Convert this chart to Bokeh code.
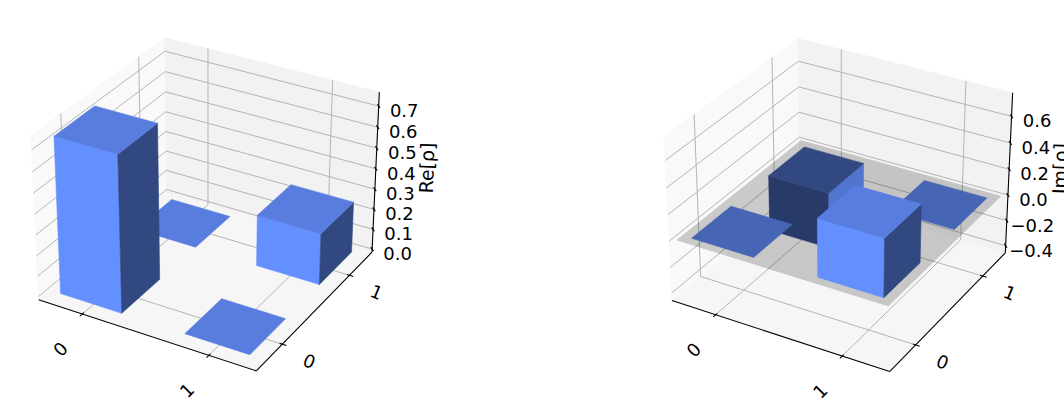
import numpy as np
from bokeh.plotting import figure
from bokeh.layouts import row
from bokeh.embed import file_html
from bokeh.resources import INLINE
from bokeh.core.properties import value

# ---- data ----
row_names = ["0", "1"]
col_names = ["0", "1"]
re_vals = [[0.75, 0.0], [0.0, 0.25]]      # [x][y]
im_vals = [[0.0, -0.433], [0.433, 0.0]]   # [x][y]
re_ticks = [0.0, 0.1, 0.2, 0.3, 0.4, 0.5, 0.6, 0.7]
im_ticks = [-0.4, -0.2, 0.0, 0.2, 0.4, 0.6]
re_zlim = (0.0, 0.75)
im_zlim = (-0.433, 0.75)
xpos = [0.25, 1.25]
ypos = [0.25, 1.25]
bar_w = 0.5
tick_pos = [0.5, 1.5]
xlim = (0.14, 1.86)
plane_lim = (0.175, 1.825)

BASE = np.array([100, 143, 255]) / 255
K = 2095.0
FONT = value("DejaVu Sans")
PX = 18

# camera as in a default 3-D axes (elev 30, azim -60, dist 10, box 4:4:3)
BOX = np.array([4, 4, 3]) * 1.8294640721620434 * 25 / 24 / np.linalg.norm([4, 4, 3])
el, az = np.radians(30), np.radians(-60)
W = np.array([np.cos(el) * np.cos(az), np.cos(el) * np.sin(az), np.sin(el)])
U = np.cross([0, 0, 1], W); U /= np.linalg.norm(U)
V = np.cross(W, U)


def shade(f):
    return "#%02x%02x%02x" % tuple(int(round(c * f * 255)) for c in BASE)


def panel(vals, zlim, zticks, zlabel, ox, oy, fx0, fw, H=410):
    d = (zlim[1] - zlim[0]) / 48
    zl = (zlim[0] - d, zlim[1] + d)

    def proj(x, y, z):
        q = np.array([(x - xlim[0]) / (xlim[1] - xlim[0]),
                      (y - xlim[0]) / (xlim[1] - xlim[0]),
                      (z - zl[0]) / (zl[1] - zl[0])]) * BOX - BOX / 2
        dp = 10 - q @ W
        return float(q @ U / dp), float(q @ V / dp)

    p = figure(width=fw, height=H, output_backend="svg", toolbar_location=None,
               x_range=((fx0 - ox) / K, (fx0 + fw - ox) / K),
               y_range=((oy - H) / K, oy / K),
               min_border=0, outline_line_color=None,
               background_fill_color="white", border_fill_color="white")
    p.axis.visible = False
    p.grid.visible = False

    def poly(pts, color, alpha=1.0):
        xy = [proj(*q) for q in pts]
        p.patch([a for a, _ in xy], [b for _, b in xy], fill_color=color,
                fill_alpha=alpha, line_color=color if alpha == 1.0 else None,
                line_width=0.6)

    def seg(pts, color, w):
        xy = [proj(*q) for q in pts]
        p.line([a for a, _ in xy], [b for _, b in xy], line_color=color, line_width=w)

    x0, x1 = xlim
    y0, y1 = xlim
    z0, z1 = zl
    # panes
    poly([(x0, y0, z0), (x0, y1, z0), (x0, y1, z1), (x0, y0, z1)], "#f9f9f9")
    poly([(x0, y1, z0), (x1, y1, z0), (x1, y1, z1), (x0, y1, z1)], "#f2f2f3")
    poly([(x0, y0, z0), (x1, y0, z0), (x1, y1, z0), (x0, y1, z0)], "#f6f6f7")
    # grid
    GRID = "#b4b4b4"
    for t in tick_pos:
        seg([(t, y0, z0), (t, y1, z0), (t, y1, z1)], GRID, 1.0)
        seg([(x1, t, z0), (x0, t, z0), (x0, t, z1)], GRID, 1.0)
    for t in zticks:
        seg([(x0, y0, t), (x0, y1, t), (x1, y1, t)], GRID, 1.0)

    def bar(i, j):
        h = vals[i][j]
        a, b = xpos[i], ypos[j]
        c, e = a + bar_w, b + bar_w
        if h == 0:
            poly([(a, b, 0), (c, b, 0), (c, e, 0), (a, e, 0)], shade(0.875))
        elif h > 0:
            poly([(a, b, 0), (c, b, 0), (c, b, h), (a, b, h)], shade(1.0))
            poly([(c, b, 0), (c, e, 0), (c, e, h), (c, b, h)], shade(0.5))
            poly([(a, b, h), (c, b, h), (c, e, h), (a, e, h)], shade(0.875))
        else:
            poly([(a, b, h), (c, b, h), (c, b, 0), (a, b, 0)], shade(0.5))
            poly([(c, b, h), (c, e, h), (c, e, 0), (c, b, 0)], shade(1.0))
            poly([(a, b, 0), (c, b, 0), (c, e, 0), (a, e, 0)], shade(0.625))

    cells = [(0, 1), (1, 1), (0, 0), (1, 0)]
    if zlim[0] < 0:
        for i, j in cells:
            if vals[i][j] <= 0:
                bar(i, j)
        a, b = plane_lim
        poly([(a, a, 0), (b, a, 0), (b, b, 0), (a, b, 0)], "#000000", 0.19)
        for i, j in cells:
            if vals[i][j] > 0:
                bar(i, j)
    else:
        for i, j in cells:
            bar(i, j)

    # axis lines
    seg([(x0, y0, z0), (x1, y0, z0)], "#000000", 1.1)
    seg([(x1, y0, z0), (x1, y1, z0)], "#000000", 1.1)
    seg([(x1, y1, z0), (x1, y1, z1)], "#000000", 1.1)
    span = x1 - x0
    for t in tick_pos:
        seg([(t, y0 - 0.018 * span, z0), (t, y0 + 0.012 * span, z0)], "#000000", 1.1)
        seg([(x1 + 0.018 * span, t, z0), (x1 - 0.012 * span, t, z0)], "#000000", 1.1)
    for t in zticks:
        seg([(x1 + 0.012 * span, y1 - 0.012 * span, t), (x1 - 0.012 * span, y1 + 0.012 * span, t)], "#000000", 1.1)

    # texts
    def label(pos, s, dx, dy, angle=0.0, size=PX):
        a, b = proj(*pos)
        p.text([a], [b], text=[s], x_offset=dx, y_offset=dy, angle=np.radians(angle),
               text_font=FONT, text_font_size=f"{size}px", text_color="#000000",
               text_align="center", text_baseline="middle")

    for t, s in zip(tick_pos, row_names):
        label((t, y0, z0), s, -22, 35, 45)
    for t, s in zip(tick_pos, col_names):
        label((x1, t, z0), s, 27, 17, -22.5)
    for t in zticks:
        s = f"{t:.1f}".replace("-", "\u2212")
        label((x1, y1, t), s, 25.5, 4.5)
    label((x1, y1, (z0 + z1) / 2), zlabel, 51, -6, 88, 19)
    return p


left = panel(re_vals, re_zlim, re_ticks, "Re[\u03c1]", 207.9, 195.8, 0, 532)
right = panel(im_vals, im_zlim, im_ticks, "Im[\u03c1]", 841.2, 196.5, 532, 532)
page = row(left, right, spacing=0)
open("out.html", "w").write(file_html(page, INLINE))
